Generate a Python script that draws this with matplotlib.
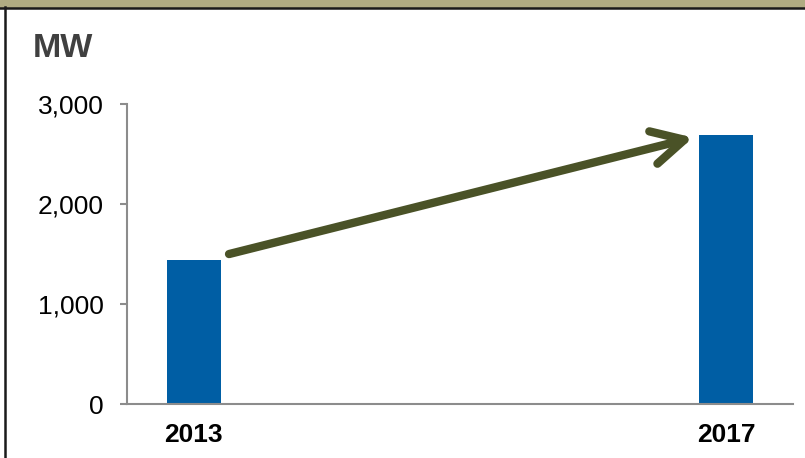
import matplotlib.pyplot as plt
from matplotlib.patches import Rectangle
from matplotlib.lines import Line2D
from matplotlib.ticker import FuncFormatter

plt.rcParams['font.family'] = ['Liberation Sans', 'DejaVu Sans']

years = ['2013', '2017']
capacity = [1440, 2690]
yticks = [0, 1000, 2000, 3000]

bar_color = '#005EA4'
arrow_color = '#4A5227'
axis_color = '#8C8C8C'

fig = plt.figure(figsize=(8.05, 4.58), dpi=100)
ax = fig.add_axes([127 / 805, 54 / 458, 666 / 805, 300.5 / 458])

xpos = list(range(len(years)))
bar_w = 0.101
ax.bar(xpos, capacity, width=bar_w, color=bar_color, zorder=2)

ax.set_xlim(-0.125, 1.125)
ax.set_ylim(0, 3000)
ax.set_yticks(yticks)
ax.yaxis.set_major_formatter(FuncFormatter(lambda v, p: f'{int(v):,}'))
ax.set_xticks(xpos)
ax.set_xticklabels(years, fontweight='bold')

for side in ['top', 'right']:
    ax.spines[side].set_visible(False)
for side in ['left', 'bottom']:
    ax.spines[side].set_color(axis_color)
    ax.spines[side].set_linewidth(1.5)
ax.tick_params(axis='y', length=5, width=1.5, color=axis_color, pad=12,
               labelsize=19, labelcolor='black')
ax.tick_params(axis='x', length=0, pad=14, labelsize=19, labelcolor='black')

# growth arrow between the two bars
start = (xpos[0] + bar_w / 2 + 0.016, capacity[0] + 57)
end = (xpos[1] - bar_w / 2 - 0.012, capacity[1] - 30)
ax.annotate('', xy=end, xytext=start,
            arrowprops=dict(arrowstyle='->, head_length=1.15, head_width=0.6',
                            color=arrow_color, lw=6, shrinkA=0, shrinkB=0,
                            mutation_scale=20, capstyle='round',
                            joinstyle='round'),
            zorder=3)

fig.text(33 / 805, 1 - 57 / 458, 'MW', fontsize=24.5, fontweight='bold',
         color='#404040', ha='left', va='baseline')

# frame decorations
fig.patches.append(Rectangle((0, 1 - 6.5 / 458), 1, 6.5 / 458,
                             transform=fig.transFigure, color='#B0AC82',
                             zorder=0))
fig.lines.append(Line2D([0, 1], [1 - 7.5 / 458] * 2, transform=fig.transFigure,
                        color='#1A1A1A', lw=1.8))
fig.lines.append(Line2D([5 / 805] * 2, [0, 1 - 7 / 458],
                        transform=fig.transFigure, color='#1A1A1A', lw=1.8))

fig.savefig('out.png', dpi=100)
